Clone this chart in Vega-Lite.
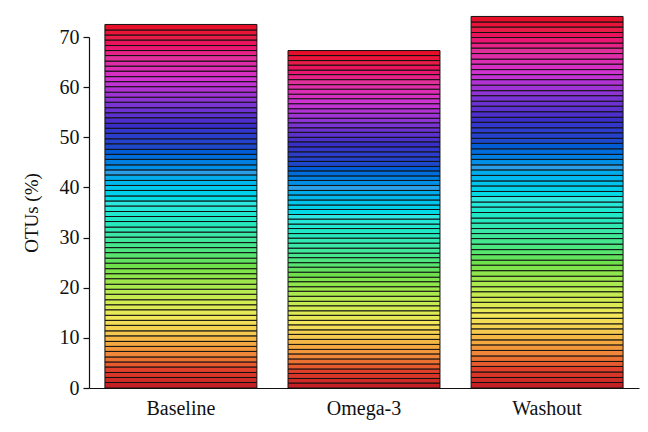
{
  "$schema": "https://vega.github.io/schema/vega-lite/v6.json",
  "autosize": "none",
  "width": 550,
  "height": 351,
  "padding": {"left": 89, "top": 37, "right": 9, "bottom": 44},
  "background": "white",
  "config": {"view": {"stroke": null}, "font": "Liberation Serif"},
  "data": {"values": [
    {"g":"Baseline","o":1,"v":1.1},{"g":"Baseline","o":2,"v":1.0},{"g":"Baseline","o":3,"v":1.0},{"g":"Baseline","o":4,"v":1.1},{"g":"Baseline","o":5,"v":1.0},{"g":"Baseline","o":6,"v":1.0},{"g":"Baseline","o":7,"v":1.1},{"g":"Baseline","o":8,"v":1.0},{"g":"Baseline","o":9,"v":1.0},{"g":"Baseline","o":10,"v":1.1},
    {"g":"Baseline","o":11,"v":1.0},{"g":"Baseline","o":12,"v":1.1},{"g":"Baseline","o":13,"v":1.0},{"g":"Baseline","o":14,"v":1.0},{"g":"Baseline","o":15,"v":1.1},{"g":"Baseline","o":16,"v":1.0},{"g":"Baseline","o":17,"v":1.0},{"g":"Baseline","o":18,"v":1.1},{"g":"Baseline","o":19,"v":1.0},{"g":"Baseline","o":20,"v":1.0},
    {"g":"Baseline","o":21,"v":1.1},{"g":"Baseline","o":22,"v":1.0},{"g":"Baseline","o":23,"v":1.0},{"g":"Baseline","o":24,"v":1.1},{"g":"Baseline","o":25,"v":1.0},{"g":"Baseline","o":26,"v":1.1},{"g":"Baseline","o":27,"v":1.0},{"g":"Baseline","o":28,"v":1.0},{"g":"Baseline","o":29,"v":1.1},{"g":"Baseline","o":30,"v":1.0},
    {"g":"Baseline","o":31,"v":1.0},{"g":"Baseline","o":32,"v":1.1},{"g":"Baseline","o":33,"v":1.0},{"g":"Baseline","o":34,"v":1.0},{"g":"Baseline","o":35,"v":1.1},{"g":"Baseline","o":36,"v":1.0},{"g":"Baseline","o":37,"v":1.0},{"g":"Baseline","o":38,"v":1.1},{"g":"Baseline","o":39,"v":1.0},{"g":"Baseline","o":40,"v":1.0},
    {"g":"Baseline","o":41,"v":1.1},{"g":"Baseline","o":42,"v":1.0},{"g":"Baseline","o":43,"v":1.0},{"g":"Baseline","o":44,"v":1.1},{"g":"Baseline","o":45,"v":1.0},{"g":"Baseline","o":46,"v":1.0},{"g":"Baseline","o":47,"v":1.1},{"g":"Baseline","o":48,"v":1.0},{"g":"Baseline","o":49,"v":1.1},{"g":"Baseline","o":50,"v":1.0},
    {"g":"Baseline","o":51,"v":1.0},{"g":"Baseline","o":52,"v":1.1},{"g":"Baseline","o":53,"v":1.0},{"g":"Baseline","o":54,"v":1.0},{"g":"Baseline","o":55,"v":1.1},{"g":"Baseline","o":56,"v":1.0},{"g":"Baseline","o":57,"v":1.0},{"g":"Baseline","o":58,"v":1.1},{"g":"Baseline","o":59,"v":1.0},{"g":"Baseline","o":60,"v":1.0},
    {"g":"Baseline","o":61,"v":1.1},{"g":"Baseline","o":62,"v":1.0},{"g":"Baseline","o":63,"v":1.0},{"g":"Baseline","o":64,"v":1.1},{"g":"Baseline","o":65,"v":1.0},{"g":"Baseline","o":66,"v":1.0},{"g":"Baseline","o":67,"v":1.1},{"g":"Baseline","o":68,"v":1.0},{"g":"Baseline","o":69,"v":1.0},{"g":"Baseline","o":70,"v":1.1},
    {"g":"Omega-3","o":1,"v":1.0},{"g":"Omega-3","o":2,"v":0.9},{"g":"Omega-3","o":3,"v":1.0},{"g":"Omega-3","o":4,"v":0.9},{"g":"Omega-3","o":5,"v":1.0},{"g":"Omega-3","o":6,"v":1.0},{"g":"Omega-3","o":7,"v":1.0},{"g":"Omega-3","o":8,"v":0.9},{"g":"Omega-3","o":9,"v":1.0},{"g":"Omega-3","o":10,"v":1.0},
    {"g":"Omega-3","o":11,"v":1.0},{"g":"Omega-3","o":12,"v":0.9},{"g":"Omega-3","o":13,"v":1.0},{"g":"Omega-3","o":14,"v":0.9},{"g":"Omega-3","o":15,"v":1.0},{"g":"Omega-3","o":16,"v":0.9},{"g":"Omega-3","o":17,"v":1.0},{"g":"Omega-3","o":18,"v":0.9},{"g":"Omega-3","o":19,"v":1.0},{"g":"Omega-3","o":20,"v":1.0},
    {"g":"Omega-3","o":21,"v":0.9},{"g":"Omega-3","o":22,"v":1.0},{"g":"Omega-3","o":23,"v":0.9},{"g":"Omega-3","o":24,"v":1.0},{"g":"Omega-3","o":25,"v":1.0},{"g":"Omega-3","o":26,"v":0.9},{"g":"Omega-3","o":27,"v":1.0},{"g":"Omega-3","o":28,"v":0.9},{"g":"Omega-3","o":29,"v":1.0},{"g":"Omega-3","o":30,"v":1.0},
    {"g":"Omega-3","o":31,"v":1.0},{"g":"Omega-3","o":32,"v":0.9},{"g":"Omega-3","o":33,"v":1.0},{"g":"Omega-3","o":34,"v":0.9},{"g":"Omega-3","o":35,"v":1.0},{"g":"Omega-3","o":36,"v":0.9},{"g":"Omega-3","o":37,"v":1.0},{"g":"Omega-3","o":38,"v":0.9},{"g":"Omega-3","o":39,"v":1.0},{"g":"Omega-3","o":40,"v":1.0},
    {"g":"Omega-3","o":41,"v":0.9},{"g":"Omega-3","o":42,"v":1.0},{"g":"Omega-3","o":43,"v":1.0},{"g":"Omega-3","o":44,"v":0.9},{"g":"Omega-3","o":45,"v":1.0},{"g":"Omega-3","o":46,"v":0.9},{"g":"Omega-3","o":47,"v":1.0},{"g":"Omega-3","o":48,"v":0.9},{"g":"Omega-3","o":49,"v":1.0},{"g":"Omega-3","o":50,"v":1.0},
    {"g":"Omega-3","o":51,"v":1.0},{"g":"Omega-3","o":52,"v":0.9},{"g":"Omega-3","o":53,"v":1.0},{"g":"Omega-3","o":54,"v":0.9},{"g":"Omega-3","o":55,"v":1.0},{"g":"Omega-3","o":56,"v":0.9},{"g":"Omega-3","o":57,"v":1.0},{"g":"Omega-3","o":58,"v":0.9},{"g":"Omega-3","o":59,"v":1.0},{"g":"Omega-3","o":60,"v":1.0},
    {"g":"Omega-3","o":61,"v":0.9},{"g":"Omega-3","o":62,"v":1.0},{"g":"Omega-3","o":63,"v":0.9},{"g":"Omega-3","o":64,"v":1.0},{"g":"Omega-3","o":65,"v":1.0},{"g":"Omega-3","o":66,"v":0.9},{"g":"Omega-3","o":67,"v":1.0},{"g":"Omega-3","o":68,"v":0.9},{"g":"Omega-3","o":69,"v":1.0},{"g":"Omega-3","o":70,"v":1.0},
    {"g":"Washout","o":1,"v":1.1},{"g":"Washout","o":2,"v":1.0},{"g":"Washout","o":3,"v":1.1},{"g":"Washout","o":4,"v":1.1},{"g":"Washout","o":5,"v":1.0},{"g":"Washout","o":6,"v":1.1},{"g":"Washout","o":7,"v":1.1},{"g":"Washout","o":8,"v":1.1},{"g":"Washout","o":9,"v":1.0},{"g":"Washout","o":10,"v":1.1},
    {"g":"Washout","o":11,"v":1.1},{"g":"Washout","o":12,"v":1.0},{"g":"Washout","o":13,"v":1.1},{"g":"Washout","o":14,"v":1.1},{"g":"Washout","o":15,"v":1.0},{"g":"Washout","o":16,"v":1.1},{"g":"Washout","o":17,"v":1.0},{"g":"Washout","o":18,"v":1.1},{"g":"Washout","o":19,"v":1.0},{"g":"Washout","o":20,"v":1.1},
    {"g":"Washout","o":21,"v":1.0},{"g":"Washout","o":22,"v":1.1},{"g":"Washout","o":23,"v":1.1},{"g":"Washout","o":24,"v":1.0},{"g":"Washout","o":25,"v":1.1},{"g":"Washout","o":26,"v":1.0},{"g":"Washout","o":27,"v":1.1},{"g":"Washout","o":28,"v":1.1},{"g":"Washout","o":29,"v":1.0},{"g":"Washout","o":30,"v":1.0},
    {"g":"Washout","o":31,"v":1.1},{"g":"Washout","o":32,"v":1.0},{"g":"Washout","o":33,"v":1.1},{"g":"Washout","o":34,"v":1.1},{"g":"Washout","o":35,"v":1.0},{"g":"Washout","o":36,"v":1.1},{"g":"Washout","o":37,"v":1.0},{"g":"Washout","o":38,"v":1.1},{"g":"Washout","o":39,"v":1.0},{"g":"Washout","o":40,"v":1.1},
    {"g":"Washout","o":41,"v":1.1},{"g":"Washout","o":42,"v":1.0},{"g":"Washout","o":43,"v":1.1},{"g":"Washout","o":44,"v":1.0},{"g":"Washout","o":45,"v":1.1},{"g":"Washout","o":46,"v":1.1},{"g":"Washout","o":47,"v":1.0},{"g":"Washout","o":48,"v":1.1},{"g":"Washout","o":49,"v":1.0},{"g":"Washout","o":50,"v":1.1},
    {"g":"Washout","o":51,"v":1.0},{"g":"Washout","o":52,"v":1.1},{"g":"Washout","o":53,"v":1.1},{"g":"Washout","o":54,"v":1.0},{"g":"Washout","o":55,"v":1.1},{"g":"Washout","o":56,"v":1.0},{"g":"Washout","o":57,"v":1.1},{"g":"Washout","o":58,"v":1.1},{"g":"Washout","o":59,"v":1.0},{"g":"Washout","o":60,"v":1.0},
    {"g":"Washout","o":61,"v":1.1},{"g":"Washout","o":62,"v":1.0},{"g":"Washout","o":63,"v":1.1},{"g":"Washout","o":64,"v":1.1},{"g":"Washout","o":65,"v":1.0},{"g":"Washout","o":66,"v":1.1},{"g":"Washout","o":67,"v":1.0},{"g":"Washout","o":68,"v":1.1},{"g":"Washout","o":69,"v":1.0},{"g":"Washout","o":70,"v":1.1}
  ]},
  "mark": {"type": "bar", "stroke": "#111111", "strokeWidth": 1, "clip": false},
  "encoding": {
    "x": {
      "field": "g", "type": "nominal", "sort": ["Baseline", "Omega-3", "Washout"],
      "scale": {"paddingInner": 0.17, "paddingOuter": 0.087},
      "axis": {"title": null, "labelAngle": 0, "ticks": false, "labelPadding": 10, "labelFontSize": 20, "labelColor": "#111", "domainColor": "#111", "domainWidth": 1.2, "labelFont": "Liberation Serif"}
    },
    "y": {
      "field": "v", "type": "quantitative", "stack": "zero",
      "scale": {"domain": [0, 70], "nice": false},
      "axis": {"title": "OTUs (%)", "values": [0,10,20,30,40,50,60,70], "grid": false, "tickSize": 6, "tickColor": "#111", "tickWidth": 1.2, "domainColor": "#111", "domainWidth": 1.2, "labelFontSize": 20, "labelColor": "#111", "labelPadding": 4, "labelFont": "Liberation Serif", "titleFont": "Liberation Serif", "titleFontSize": 19, "titleFontWeight": "normal", "titleColor": "#111", "titlePadding": 18}
    },
    "order": {"field": "o", "type": "quantitative", "sort": "ascending"},
    "color": {
      "field": "o", "type": "quantitative", "legend": null,
      "scale": {
        "domain": [1, 4, 7, 11, 14, 19, 24, 30, 36, 42, 47, 51, 55, 60, 64, 68, 70],
        "range": ["#c41f24", "#e0402a", "#f0863a", "#f5c850", "#f3e85a", "#b8ec50", "#6ee04c", "#3ce8a8", "#2ee6e0", "#2a9fe8", "#1e48cc", "#3a2ec8", "#7a34d4", "#d034d0", "#e0309a", "#e81c48", "#e60f2a"]
      }
    }
  }
}
